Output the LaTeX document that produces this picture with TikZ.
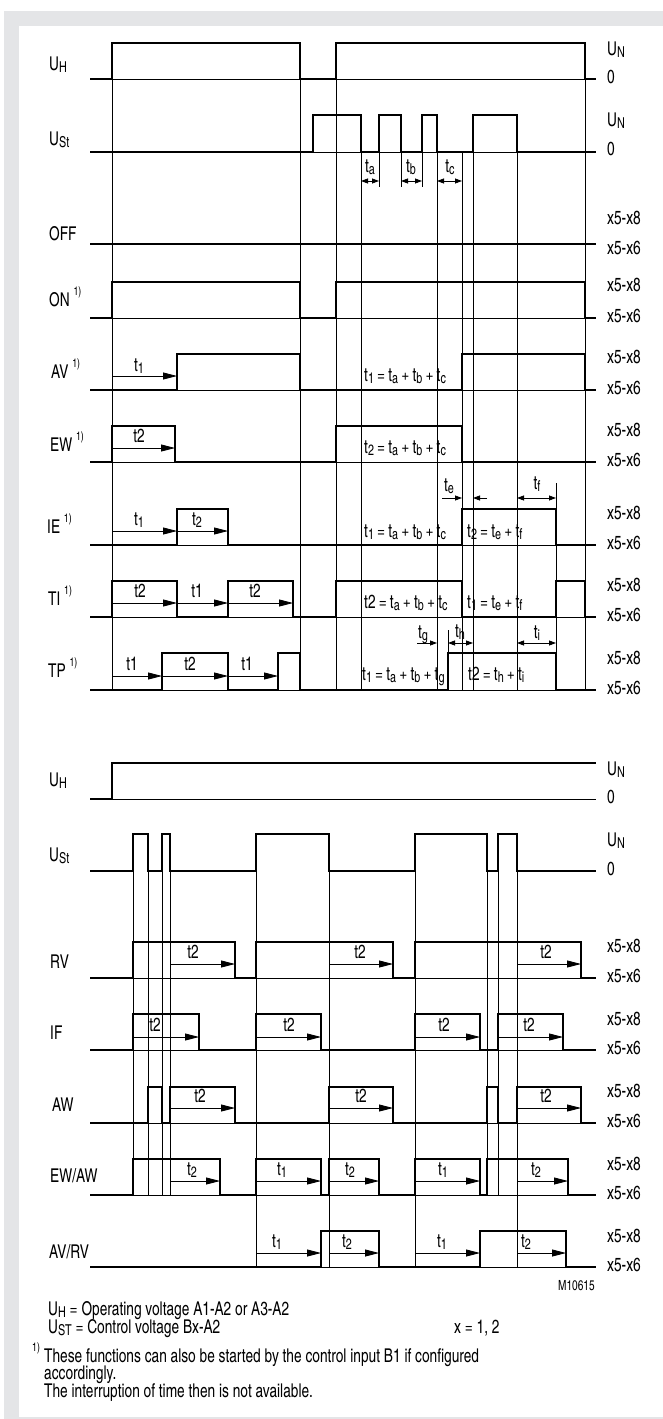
\documentclass[tikz,border=0pt]{standalone}
\usepackage{fontspec}
\setmainfont{texgyreheroscn}[Extension=.otf,UprightFont=*-regular,FakeStretch=0.88]
\usepackage{xcolor}
\usepackage{tikz}
\usetikzlibrary{arrows.meta}

\definecolor{framegray}{HTML}{E4E5E7}
\newcommand{\lo}[1]{\raisebox{-0.3ex}{\fontsize{15}{15}\selectfont #1}}
\newcommand{\fnmark}{\raisebox{1.1ex}{\fontsize{12}{12}\selectfont 1)}}

\tikzset{
  sig/.style={line width=2.6pt},
  grid/.style={line width=0.8pt},
  tarr/.style={line width=0.8pt, -{Triangle[length=14pt,width=7pt]}},
  sarr/.style={line width=0.8pt, -{Triangle[length=7pt,width=5pt]}},
  darr/.style={line width=0.8pt, {Triangle[length=7pt,width=5pt]}-{Triangle[length=7pt,width=5pt]}},
  txt/.style={inner sep=0pt, anchor=base},
  lbl/.style={inner sep=0pt, anchor=base west},
}

\begin{document}
\begin{tikzpicture}[x=1pt, y=-1pt, font=\fontsize{19}{22}\selectfont]
\useasboundingbox (0,0) rectangle (663,1419);
\fill[framegray] (4,11) rectangle (663,1419);
\fill[white] (19,26) rectangle (663,1417);

% upper diagram: time lines
\draw[grid] (112,43) -- (112,690) (300,43) -- (300,690) (336,43) -- (336,690) (585,43) -- (585,690);
\draw[grid] (361,115) -- (361,690) (437,115) -- (437,690) (473,115) -- (473,690) (517,115) -- (517,690);
\draw[grid] (462,152) -- (462,690) (556,483) -- (556,690) (448,630) -- (448,653);
\draw[grid] (379,152) -- (379,187) (401,152) -- (401,187) (422,152) -- (422,187);
\draw[grid] (90,79) -- (596,79) (90,152) -- (596,152) (90,318) -- (596,318) (90,390) -- (596,390)
  (90,462) -- (596,462) (90,545) -- (596,545) (90,617) -- (596,617) (90,690) -- (596,690);

% upper diagram: signals
\draw[sig] (90,79) -| (112,43) -| (300,79) -| (336,43) -| (585,79) -- (596,79);
\draw[sig] (90,152) -| (313,115) -| (361,152) -| (379,115) -| (401,152) -| (422,115) -| (437,152) -| (473,115) -| (517,152) -- (596,152);
\draw[sig] (90,244) -- (596,244);
\draw[sig] (90,318) -| (112,282) -| (300,318) -| (336,282) -| (585,318) -- (596,318);
\draw[sig] (90,390) -| (177,354) -| (300,390) -| (462,354) -| (585,390) -- (596,390);
\draw[sig] (90,462) -| (112,426) -| (175,462) -| (336,426) -| (462,462) -- (596,462);
\draw[sig] (90,545) -| (177,509) -| (228,545) -| (462,509) -| (556,545) -- (596,545);
\draw[sig] (90,617) -| (112,581) -| (177,617) -| (228,581) -| (293,617) -| (336,581) -| (462,617) -| (556,581) -| (585,617) -- (596,617);
\draw[sig] (90,690) -| (162,653) -| (228,690) -| (278,653) -| (300,690) -| (448,653) -| (556,690) -- (596,690);

% upper diagram: times
\draw[darr] (361,181) -- (379,181);
\draw[darr] (401,181) -- (422,181);
\draw[darr] (437,181) -- (462,181);
\node[txt] (ta) at (370,172) {t\lo{a}};
\node[txt] (tb) at (411,172) {t\lo{b}};
\node[txt] (tc) at (450,172) {t\lo{c}};
\draw[tarr] (112,376) -- (177,376);
\node[txt] (av-t1) at (139,371) {t\lo{1}};
\draw[tarr] (112,448) -- (175,448);
\node[txt] (ew-t2) at (139,442) {t2};
\draw[tarr] (112,531) -- (177,531);
\draw[tarr] (177,531) -- (228,531);
\node[txt] (ie-t1) at (139,525) {t\lo{1}};
\node[txt] (ie-t2) at (197,525) {t\lo{2}};
\draw[tarr] (112,603) -- (177,603);
\draw[tarr] (177,603) -- (228,603);
\draw[tarr] (228,603) -- (293,603);
\node[txt] (ti-a) at (140,597) {t2};
\node[txt] (ti-b) at (197,597) {t1};
\node[txt] (ti-c) at (255,597) {t2};
\draw[tarr] (112,676) -- (162,676);
\draw[tarr] (162,676) -- (228,676);
\draw[tarr] (228,676) -- (278,676);
\node[txt] (tp-a) at (132,670) {t1};
\node[txt] (tp-b) at (190,670) {t2};
\node[txt] (tp-c) at (247,670) {t1};
\draw[sarr] (442,498) -- (462,498);
\draw[sarr] (487,498) -- (473,498);
\draw[darr] (517,498) -- (556,498);
\node[txt] (te) at (449,491) {t\lo{e}};
\node[txt] (tf) at (537,489) {t\lo{f}};
\draw[sarr] (417,643) -- (437,643);
\draw[darr] (448,643) -- (473,643);
\draw[darr] (517,643) -- (556,643);
\node[txt] (tg) at (423,638) {t\lo{g}};
\node[txt] (th) at (460,637) {t\lo{h}};
\node[txt] (tti) at (537,638) {t\lo{i}};
\node[lbl] (f-av) at (364,381) {t\lo{1}\,=\,t\lo{a}\,+\,t\lo{b}\,+\,t\lo{c}};
\node[lbl] (f-ew) at (364,453) {t\lo{2}\,=\,t\lo{a}\,+\,t\lo{b}\,+\,t\lo{c}};
\node[lbl] (f-ie1) at (364,537) {t\lo{1}\,=\,t\lo{a}\,+\,t\lo{b}\,+\,t\lo{c}};
\node[lbl] (f-ie2) at (467,537) {t\lo{2}\,=\,t\lo{e}\,+\,t\lo{f}};
\node[lbl] (f-ti1) at (364,608) {t2\,=\,t\lo{a}\,+\,t\lo{b}\,+\,t\lo{c}};
\node[lbl] (f-ti2) at (467,608) {t\lo{1}\,=\,t\lo{e}\,+\,t\lo{f}};
\node[lbl] (f-tp1) at (362,680) {t\lo{1}\,=\,t\lo{a}\,+\,t\lo{b}\,+\,t\lo{g}};
\node[lbl] (f-tp2) at (468,680) {t2\,=\,t\lo{h}\,+\,t\lo{i}};

% upper diagram: labels
\node[lbl] (uh) at (49,70) {U\lo{H}};
\node[lbl] (ust) at (49,145) {U\lo{St}};
\node[lbl] (off) at (49,240) {OFF};
\node[lbl] (on) at (49,306) {ON~\fnmark};
\node[lbl] (av) at (51,378) {AV~\fnmark};
\node[lbl] (ew) at (50,451) {EW~\fnmark};
\node[lbl] (ie) at (47,533) {IE~\fnmark};
\node[lbl] (ti) at (48,605) {TI~\fnmark};
\node[lbl] (tp) at (48,677) {TP~\fnmark};
\node[lbl] (uh-n) at (607,55) {U\lo{N}};
\node[lbl] (uh-0) at (607,83) {0};
\node[lbl] (ust-n) at (607,126) {U\lo{N}};
\node[lbl] (ust-0) at (607,155) {0};
\node[lbl] (off-h) at (607,224) {x5-x8};
\node[lbl] (off-l) at (607,254) {x5-x6};
\node[lbl] (on-h) at (607,291) {x5-x8};
\node[lbl] (on-l) at (607,322) {x5-x6};
\node[lbl] (av-h) at (607,363) {x5-x8};
\node[lbl] (av-l) at (607,394) {x5-x6};
\node[lbl] (ew-h) at (607,436) {x5-x8};
\node[lbl] (ew-l) at (607,466) {x5-x6};
\node[lbl] (ie-h) at (607,519) {x5-x8};
\node[lbl] (ie-l) at (607,549) {x5-x6};
\node[lbl] (ti-h) at (607,591) {x5-x8};
\node[lbl] (ti-l) at (607,621) {x5-x6};
\node[lbl] (tp-h) at (607,664) {x5-x8};
\node[lbl] (tp-l) at (607,694) {x5-x6};

% lower diagram: time lines
\draw[grid] (133,871) -- (133,1195) (148,871) -- (148,1195) (162,871) -- (162,1195) (170,871) -- (170,1195);
\draw[grid] (487,871) -- (487,1195) (498,871) -- (498,1195);
\draw[grid] (256,871) -- (256,1267) (329,871) -- (329,1267) (415,871) -- (415,1267) (517,871) -- (517,1267);
\draw[grid] (90,799) -- (596,799) (90,978) -- (596,978) (90,1050) -- (596,1050) (90,1123) -- (596,1123)
  (90,1195) -- (596,1195) (90,1267) -- (596,1267);

% lower diagram: signals
\draw[sig] (90,799) -| (112,763) -- (596,763);
\draw[sig] (90,871) -| (133,834) -| (148,871) -| (162,834) -| (170,871) -| (256,834) -| (329,871) -| (415,834) -| (487,871) -| (498,834) -| (517,871) -- (596,871);
\draw[sig] (90,978) -| (133,942) -| (235,978) -| (256,942) -| (393,978) -| (415,942) -| (581,978) -- (596,978);
\draw[sig] (90,1050) -| (133,1014) -| (199,1050) -| (256,1014) -| (321,1050) -| (415,1014) -| (480,1050) -| (498,1014) -| (563,1050) -- (596,1050);
\draw[sig] (90,1123) -| (148,1087) -| (162,1123) -| (170,1087) -| (235,1123) -| (329,1087) -| (393,1123) -| (487,1087) -| (498,1123) -| (517,1087) -| (581,1123) -- (596,1123);
\draw[sig] (90,1195) -| (133,1159) -| (220,1195) -| (256,1159) -| (321,1195) -| (329,1159) -| (379,1195) -| (415,1159) -| (480,1195) -| (487,1159) -| (568,1195) -- (596,1195);
\draw[sig] (90,1267) -| (321,1231) -| (379,1267) -| (480,1231) -| (566,1267) -- (596,1267);

% lower diagram: times
\draw[tarr] (170,964) -- (235,964);
\draw[tarr] (329,964) -- (393,964);
\draw[tarr] (517,964) -- (581,964);
\node[txt] (rv-a) at (193,958) {t2};
\node[txt] (rv-b) at (360,958) {t2};
\node[txt] (rv-c) at (546,958) {t2};
\draw[tarr] (133,1037) -- (199,1037);
\draw[tarr] (256,1037) -- (321,1037);
\draw[tarr] (415,1037) -- (480,1037);
\draw[tarr] (498,1037) -- (563,1037);
\node[txt] (if-a) at (155,1031) {t2};
\node[txt] (if-b) at (289,1031) {t2};
\node[txt] (if-c) at (444,1031) {t2};
\node[txt] (if-d) at (529,1031) {t2};
\draw[tarr] (170,1108) -- (235,1108);
\draw[tarr] (329,1108) -- (393,1108);
\draw[tarr] (517,1108) -- (581,1108);
\node[txt] (aw-a) at (200,1102) {t2};
\node[txt] (aw-b) at (361,1102) {t2};
\node[txt] (aw-c) at (546,1102) {t2};
\draw[tarr] (170,1181) -- (220,1181);
\draw[tarr] (256,1181) -- (321,1181);
\draw[tarr] (329,1181) -- (379,1181);
\draw[tarr] (415,1181) -- (480,1181);
\draw[tarr] (517,1181) -- (568,1181);
\node[txt] (ewaw-a) at (192,1175) {t\lo{2}};
\node[txt] (ewaw-b) at (282,1175) {t\lo{1}};
\node[txt] (ewaw-c) at (350,1175) {t\lo{2}};
\node[txt] (ewaw-d) at (443,1175) {t\lo{1}};
\node[txt] (ewaw-e) at (536,1175) {t\lo{2}};
\draw[tarr] (256,1253) -- (321,1253);
\draw[tarr] (329,1253) -- (379,1253);
\draw[tarr] (415,1253) -- (480,1253);
\draw[tarr] (517,1253) -- (566,1253);
\node[txt] (avrv-a) at (277,1247) {t\lo{1}};
\node[txt] (avrv-b) at (347,1247) {t\lo{2}};
\node[txt] (avrv-c) at (442,1247) {t\lo{1}};
\node[txt] (avrv-d) at (526,1247) {t\lo{2}};

% lower diagram: labels
\node[lbl] (uh2) at (49,786) {U\lo{H}};
\node[lbl] (ust2) at (49,861) {U\lo{St}};
\node[lbl] (rv) at (50,968) {RV};
\node[lbl] (if) at (50,1039) {IF};
\node[lbl] (aw) at (52,1111) {AW};
\node[lbl] (ewaw) at (50,1182) {EW/AW};
\node[lbl] (avrv) at (49,1258) {AV/RV};
\node[lbl] (uh2-n) at (607,775) {U\lo{N}};
\node[lbl] (uh2-0) at (607,803) {0};
\node[lbl] (ust2-n) at (607,846) {U\lo{N}};
\node[lbl] (ust2-0) at (607,875) {0};
\node[lbl] (rv-h) at (607,952) {x5-x8};
\node[lbl] (rv-l) at (607,982) {x5-x6};
\node[lbl] (if-h) at (607,1025) {x5-x8};
\node[lbl] (if-l) at (607,1054) {x5-x6};
\node[lbl] (aw-h) at (607,1097) {x5-x8};
\node[lbl] (aw-l) at (607,1127) {x5-x6};
\node[lbl] (ewaw-h) at (607,1170) {x5-x8};
\node[lbl] (ewaw-l) at (607,1199) {x5-x6};
\node[lbl] (avrv-h) at (607,1242) {x5-x8};
\node[lbl] (avrv-l) at (607,1271) {x5-x6};

% legend
\node[lbl] (code) at (558,1290) {\fontsize{14}{16}\selectfont M10615};
\node[lbl] (leg-uh) at (48,1315) {U\lo{H} = Operating voltage A1-A2 or A3-A2};
\node[lbl] (leg-ust) at (48,1333) {U\lo{ST} = Control voltage Bx-A2};
\node[lbl] (leg-x) at (454,1333) {x = 1, 2};
\node[lbl] (note-mark) at (32,1362) {\fnmark};
\node[lbl] (note-a) at (44,1362) {These functions can also be started by the control input B1 if configured};
\node[lbl] (note-b) at (44,1379) {accordingly.};
\node[lbl] (note-c) at (44,1397) {The interruption of time then is not available.};
\end{tikzpicture}
\end{document}
